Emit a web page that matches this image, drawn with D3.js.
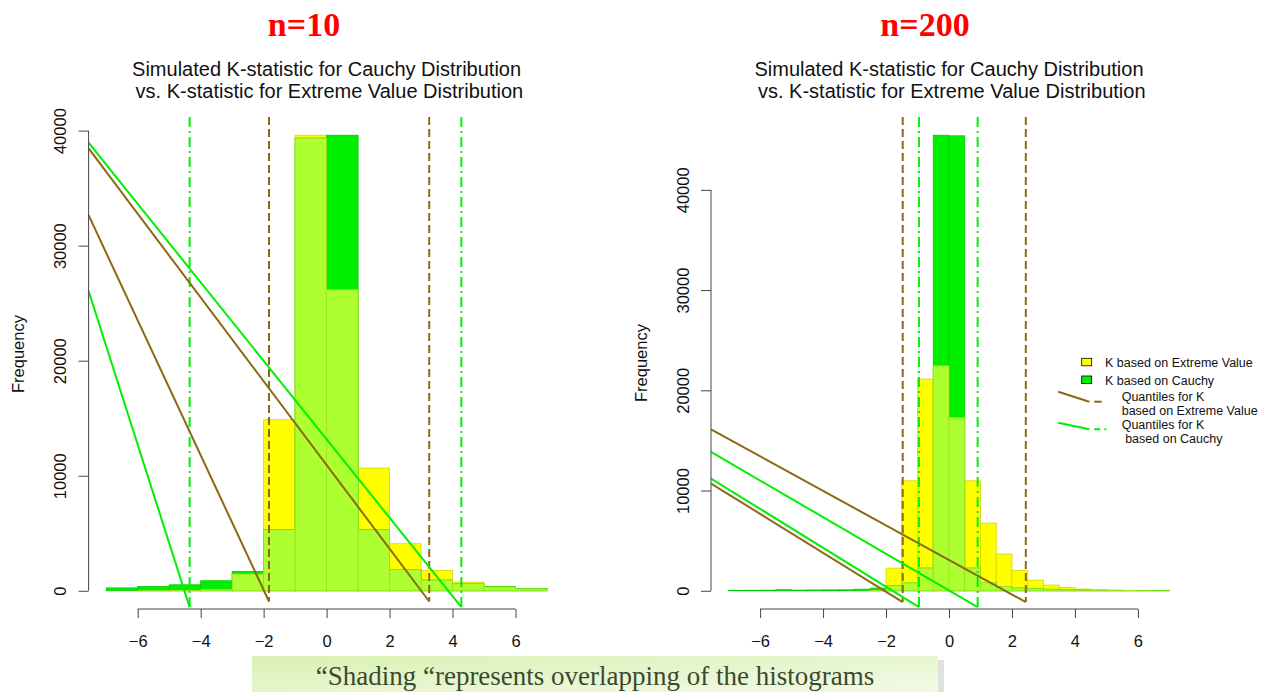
<!DOCTYPE html>
<html>
<head>
<meta charset="utf-8">
<script src="https://cdn.jsdelivr.net/npm/d3@7"></script>
<style>
  body { margin: 0; background: #fff; }
  svg { display: block; }
</style>
</head>
<body>
<svg id="chart"></svg>
<script>
const width = 1272;
const height = 692;

// ---- data ----
const binStartsN10 = [-7, -6, -5, -4, -3, -2, -1, 0, 1, 2, 3, 4, 5, 6];
const evN10     = [0, 10, 30, 100, 1450, 14870, 39600, 26170, 10670, 4090, 1770, 750, 330, 170];
const cauchyN10 = [250, 370, 520, 870, 1680, 5300, 39350, 39600, 5300, 1830, 930, 610, 380, 200];

const binStartsN200 = [-7, -6.5, -6, -5.5, -5, -4.5, -4, -3.5, -3, -2.5, -2, -1.5, -1, -0.5,
                       0, 0.5, 1, 1.5, 2, 2.5, 3, 3.5, 4, 4.5, 5, 5.5, 6, 6.5];
const evN200     = [0, 0, 0, 0, 0, 0, 0, 0, 0, 40, 2260, 10970, 21120, 22440,
                    17290, 10970, 6750, 3660, 2030, 1060, 570, 330, 170, 90, 50, 30, 15, 10];
const cauchyN200 = [40, 50, 60, 110, 70, 80, 90, 100, 160, 260, 500, 770, 2260, 45450,
                    45390, 2260, 830, 430, 270, 200, 150, 110, 80, 60, 50, 40, 30, 30];

// quantile lines and the stray diagonal segments that end at their feet
const qEvN10 = [-1.83, 3.26];
const qCauchyN10 = [-4.35, 4.28];
const diagEvN10 = [32650, 38450];
const diagCauchyN10 = [26060, 38950];
const footN10 = {ev: -930, cauchy: -1420};

const qEvN200 = [-1.47, 2.44];
const qCauchyN200 = [-0.955, 0.91];
const diagEvN200 = [10700, 16100];
const diagCauchyN200 = [11200, 13850];
const footN200 = {ev: -1127, cauchy: -1626};

const xTicks = [-6, -4, -2, 0, 2, 4, 6];
const yTicks = [0, 10000, 20000, 30000, 40000];

const titleLines = ["Simulated K-statistic for Cauchy Distribution",
                    " vs. K-statistic for Extreme Value Distribution"];
const legendFills = ["K based on Extreme Value", "K based on Cauchy"];
const legendLines = [["Quantiles for K", "based on Extreme Value"],
                     ["Quantiles for K", " based on Cauchy"]];
const caption = "\u201cShading \u201crepresents overlapping of the histograms";

const brown = "#8b6914";
const green = "#00ee00";
const lineGreen = "#00f000";
const yellow = "#ffff00";
const overlap = "#adff2f";
const sans = "'Liberation Sans', Arial, sans-serif";
const serif = "'Liberation Serif', 'Times New Roman', serif";

let svg = d3.select("#chart")
  .attr("width", width)
  .attr("height", height)
  .style("font-family", sans);

let defs = svg.append("defs");

function drawPanel(p) {
  const top = 117, bottom = 609;
  const ymax = d3.max(p.ev.concat(p.cauchy));
  const x = d3.scaleLinear().domain([-7.56, 7.56]).range([p.left, p.right]);
  const y = d3.scaleLinear().domain([-0.04 * ymax, 1.04 * ymax]).range([bottom, top]);

  const clipId = "clip" + p.id;
  defs.append("clipPath").attr("id", clipId)
    .append("rect")
    .attr("x", p.left).attr("y", top)
    .attr("width", p.right - p.left).attr("height", bottom - top);

  let g = svg.append("g");
  const bw = p.starts[1] - p.starts[0];
  const bins = p.starts.map((s, i) => ({x0: s, x1: s + bw, ev: p.ev[i], ca: p.cauchy[i]}));

  function bars(cls, val, fill, stroke) {
    g.append("g").selectAll("rect." + cls)
      .data(bins.filter(d => val(d) > 0))
      .join("rect")
      .attr("x", d => x(d.x0))
      .attr("width", d => x(d.x1) - x(d.x0))
      .attr("y", d => y(val(d)))
      .attr("height", d => y(0) - y(val(d)))
      .style("fill", fill)
      .style("stroke", stroke)
      .style("stroke-width", 0.8);
  }
  bars("ev", d => d.ev, yellow, "#d6d600");
  bars("ca", d => d.ca, green, "#00cc00");
  bars("ov", d => Math.min(d.ev, d.ca), overlap, "#9ee02a");

  let lines = svg.append("g").attr("clip-path", `url(#${clipId})`);

  // vertical quantile lines
  function vlines(qs, foot, color, dash) {
    lines.selectAll(null)
      .data(qs)
      .join("line")
      .attr("x1", d => x(d)).attr("x2", d => x(d))
      .attr("y1", y(1.04 * ymax)).attr("y2", y(foot))
      .style("stroke", color)
      .style("stroke-width", 2)
      .style("stroke-dasharray", dash);
  }
  vlines(p.qEv, p.foot.ev, brown, "8,4");
  vlines(p.qCauchy, p.foot.cauchy, lineGreen, "10,4,2,4");

  // diagonal segments from the left edge to the feet
  function diags(qs, starts, foot, color) {
    lines.selectAll(null)
      .data(qs.map((q, i) => ({q: q, s: starts[i]})))
      .join("line")
      .attr("x1", x(-7.56)).attr("y1", d => y(d.s))
      .attr("x2", d => x(d.q)).attr("y2", y(foot))
      .style("stroke", color)
      .style("stroke-width", 2);
  }
  diags(p.qEv, p.diagEv, p.foot.ev, brown);
  diags(p.qCauchy, p.diagCauchy, p.foot.cauchy, lineGreen);

  // x axis
  let xa = svg.append("g")
    .attr("transform", `translate(0,${bottom})`)
    .call(d3.axisBottom(x).tickValues(xTicks).tickSize(9).tickPadding(17).tickFormat(d3.format("d")));
  xa.select(".domain").remove();
  xa.append("line")
    .attr("x1", x(xTicks[0])).attr("x2", x(xTicks[xTicks.length - 1]))
    .style("stroke", "#444");
  xa.selectAll(".tick line").style("stroke", "#444");
  xa.selectAll("text")
    .style("font-size", "16.5px").style("font-family", sans).style("fill", "#111");

  // y axis
  let ya = svg.append("g")
    .attr("transform", `translate(${p.left},0)`)
    .call(d3.axisLeft(y).tickValues(yTicks).tickSize(10).tickFormat(d3.format("d")));
  ya.select(".domain").remove();
  ya.append("line")
    .attr("y1", y(yTicks[0])).attr("y2", y(yTicks[yTicks.length - 1]))
    .style("stroke", "#444");
  ya.selectAll(".tick line").style("stroke", "#444");
  ya.selectAll("text")
    .attr("transform", "rotate(-90)")
    .attr("x", 0).attr("y", -28).attr("dy", "0.35em")
    .attr("text-anchor", "middle")
    .style("font-size", "16.5px").style("font-family", sans).style("fill", "#111");

  svg.append("text")
    .attr("transform", `translate(${p.left - 70},${p.ylabY}) rotate(-90)`)
    .attr("text-anchor", "middle").attr("dy", "0.35em")
    .style("font-size", "16.5px").style("fill", "#111")
    .text("Frequency");

  // titles
  const cx = (p.left + p.right) / 2;
  svg.selectAll(null)
    .data(titleLines)
    .join("text")
    .attr("x", cx).attr("y", (d, i) => 76 + i * 22)
    .attr("text-anchor", "middle")
    .style("white-space", "pre")
    .style("font-size", "20px").style("fill", "#111")
    .text(d => d);

  svg.append("text")
    .attr("x", p.nx).attr("y", 36)
    .attr("text-anchor", "middle")
    .style("font-family", serif).style("font-weight", "bold")
    .style("font-size", "34px").style("fill", "#ff0000")
    .text(p.label);
}

drawPanel({id: 1, left: 88.6, right: 564.6, starts: binStartsN10, ev: evN10, cauchy: cauchyN10,
  qEv: qEvN10, qCauchy: qCauchyN10, diagEv: diagEvN10, diagCauchy: diagCauchyN10, foot: footN10,
  label: "n=10", nx: 304, ylabY: 354});
drawPanel({id: 2, left: 711, right: 1187, starts: binStartsN200, ev: evN200, cauchy: cauchyN200,
  qEv: qEvN200, qCauchy: qCauchyN200, diagEv: diagEvN200, diagCauchy: diagCauchyN200, foot: footN200,
  label: "n=200", nx: 925, ylabY: 363});

// legend
let leg = svg.append("g").style("font-size", "12.5px").style("fill", "#111");
leg.selectAll("rect")
  .data(legendFills)
  .join("rect")
  .attr("x", 1081.7).attr("y", (d, i) => 358.3 + i * 17.7)
  .attr("width", 10).attr("height", 7.5)
  .style("fill", (d, i) => i === 0 ? yellow : green)
  .style("stroke", "#000").style("stroke-width", 0.8);
leg.selectAll("text.fill")
  .data(legendFills)
  .join("text")
  .attr("class", "fill")
  .attr("x", 1105).attr("y", (d, i) => 367 + i * 18.3)
  .text(d => d);

const legColors = [brown, lineGreen];
legendLines.forEach((pair, i) => {
  const y0 = 391.7 + i * 31, y1 = 401.7 + i * 27.6;
  leg.append("line")
    .attr("x1", 1058.3).attr("y1", y0).attr("x2", 1089.3).attr("y2", y1)
    .style("stroke", legColors[i]).style("stroke-width", 2);
  leg.append("line")
    .attr("x1", 1094.3).attr("y1", y1).attr("x2", i === 0 ? 1101.7 : 1107).attr("y2", y1)
    .style("stroke", legColors[i]).style("stroke-width", 2)
    .style("stroke-dasharray", i === 0 ? null : "6,4,2,4");
  pair.forEach((t, j) => {
    leg.append("text")
      .attr("x", 1121.7).attr("y", 401 + i * 28.4 + j * 13.8)
      .style("white-space", "pre")
      .text(t);
  });
});

// caption box
let grad = defs.append("linearGradient").attr("id", "capGrad")
  .attr("x1", "0%").attr("y1", "0%").attr("x2", "100%").attr("y2", "100%");
grad.append("stop").attr("offset", "0%").attr("stop-color", "#d9f1b3");
grad.append("stop").attr("offset", "100%").attr("stop-color", "#f4faea");

svg.append("rect")
  .attr("x", 256).attr("y", 660).attr("width", 688).attr("height", 40)
  .style("fill", "#c4c4c4").style("opacity", 0.5);
svg.append("rect")
  .attr("x", 252).attr("y", 656).attr("width", 686).attr("height", 40)
  .style("fill", "url(#capGrad)");
svg.append("text")
  .attr("x", 595).attr("y", 685)
  .attr("text-anchor", "middle")
  .style("font-family", serif).style("font-size", "27px").style("fill", "#3a4a2c")
  .text(caption);
</script>
</body>
</html>
